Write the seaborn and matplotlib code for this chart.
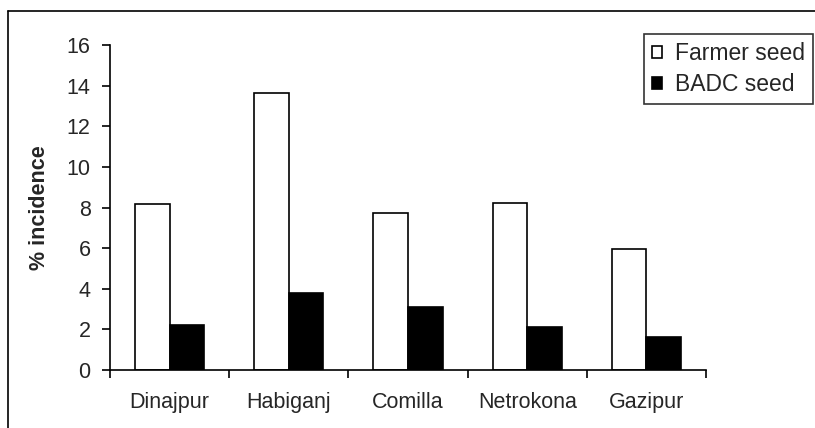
import matplotlib
matplotlib.use("Agg")
import matplotlib.pyplot as plt
import seaborn as sns
import pandas as pd
from matplotlib.lines import Line2D

districts = ["Dinajpur", "Habiganj", "Comilla", "Netrokona", "Gazipur"]
farmer_seed = [8.15, 13.63, 7.72, 8.24, 5.98]
badc_seed = [2.2, 3.79, 3.09, 2.12, 1.61]
series_names = ["Farmer seed", "BADC seed"]
yticks = [0, 2, 4, 6, 8, 10, 12, 14, 16]

df = pd.DataFrame({
    "District": districts * 2,
    "Seed": [series_names[0]] * len(districts) + [series_names[1]] * len(districts),
    "Incidence": farmer_seed + badc_seed,
})

sns.set_style("white")
plt.rcParams["font.family"] = ["Liberation Sans", "DejaVu Sans"]

W, H = 815, 428
fig = plt.figure(figsize=(W / 100, H / 100), dpi=100)
ax = fig.add_axes([110 / W, 1 - 370 / H, (706 - 110) / W, (370 - 45) / H])

sns.barplot(data=df, x="District", y="Incidence", hue="Seed",
            palette=["white", "black"], edgecolor="black", linewidth=1.2,
            width=0.58, ax=ax, legend=True, order=districts,
            hue_order=series_names)

ax.set_ylim(0, 16)
ax.set_xlim(-0.5, len(districts) - 0.5)
ax.set_yticks(yticks)
ax.set_yticklabels([str(t) for t in yticks], fontsize=15.5)
ax.set_xticks(range(len(districts)))
ax.set_xticklabels(districts, fontsize=15.5)
ax.set_xticks([i - 0.5 for i in range(len(districts) + 1)], minor=True)
ax.tick_params(axis="x", which="major", length=0, pad=16)
ax.tick_params(axis="x", which="minor", length=6, width=1.2, direction="out", color="black", bottom=True)
ax.tick_params(axis="y", which="major", length=6, width=1.2, direction="out", color="black", left=True, pad=8)
ax.set_xlabel("")
ax.set_ylabel("% incidence", fontsize=15.5, fontweight="bold", labelpad=12)

for s in ["top", "right"]:
    ax.spines[s].set_visible(False)
for s in ["left", "bottom"]:
    ax.spines[s].set_color("black")
    ax.spines[s].set_linewidth(1.2)

leg = ax.legend(loc="upper right", bbox_to_anchor=(813 / W, 1 - 34 / H),
                bbox_transform=fig.transFigure, borderaxespad=0,
                fontsize=16.5, frameon=True, fancybox=False, edgecolor="black",
                handlelength=0.45, handleheight=0.45, handletextpad=0.55,
                labelspacing=0.35, borderpad=0.35)
leg.get_frame().set_linewidth(1.2)

# outer chart border (left and top visible in the reference)
fig.add_artist(Line2D([8 / W, 8 / W], [0, 1 - 11 / H], transform=fig.transFigure,
                      color="black", linewidth=1.2))
fig.add_artist(Line2D([8 / W, 1], [1 - 11 / H, 1 - 11 / H], transform=fig.transFigure,
                      color="black", linewidth=1.2))

fig.savefig("out.png", dpi=100)
